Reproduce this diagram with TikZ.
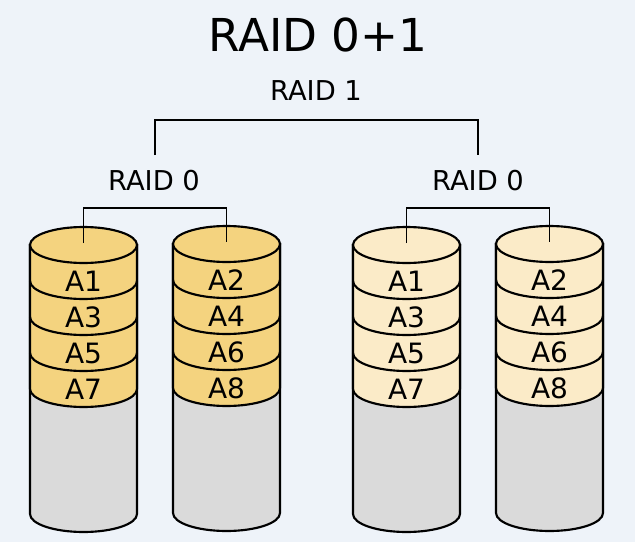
\documentclass[tikz,border=0pt]{standalone}
\usepackage{fontspec}
\setmainfont{DejaVu Sans}
\definecolor{bg}{HTML}{EEF3F9}
\definecolor{dk}{HTML}{F4D37F}
\definecolor{lt}{HTML}{FBEBC8}
\definecolor{gr}{HTML}{DADADA}
\newcommand{\mydisk}[5]{% cx, ytop(px), fill, label1, labels list
  \begin{scope}[shift={(#1,-#2)}]
    \draw[line width=1.6pt,fill=gr] (-53.5,0) -- (-53.5,-269) arc[start angle=180,end angle=360,x radius=53.5,y radius=18] -- (53.5,0) -- cycle;
    \draw[line width=1.6pt,fill=#3] (-53.5,0) -- (-53.5,-144) arc[start angle=180,end angle=360,x radius=53.5,y radius=18] -- (53.5,0) -- cycle;
    \foreach \k in {36,72,108}
      \draw[line width=1.6pt] (-53.5,-\k) arc[start angle=180,end angle=360,x radius=53.5,y radius=18];
    \draw[line width=1.6pt,fill=#3] (0,0) ellipse[x radius=53.5,y radius=18];
    \foreach \t [count=\i] in {#4,#5}
      \node[font=\fontsize{21}{23}\selectfont] at (0,-36*\i) {\t};
  \end{scope}}
\begin{document}
\begin{tikzpicture}[x=0.75pt,y=0.75pt,conn/.style={line width=1.2pt}]
\fill[bg] (0,0) rectangle (635,-542);
\useasboundingbox (0,0) rectangle (635,-542);
\node[font=\fontsize{34}{38}\selectfont] (title) at (318,-35) {RAID 0+1};
\node[font=\fontsize{20.5}{22}\selectfont] (r1) at (316,-91) {RAID 1};
\node[font=\fontsize{20.5}{22}\selectfont] (r0a) at (154,-181) {RAID 0};
\node[font=\fontsize{20.5}{22}\selectfont] (r0b) at (478,-181) {RAID 0};
\mydisk{83.5}{245}{dk}{A1}{A3,A5,A7}
\mydisk{226.5}{244}{dk}{A2}{A4,A6,A8}
\mydisk{406.5}{245}{lt}{A1}{A3,A5,A7}
\mydisk{549.5}{244}{lt}{A2}{A4,A6,A8}
\coordinate (d1) at (83.5,-243);
\coordinate (d2) at (226.5,-242);
\coordinate (d3) at (406.5,-243);
\coordinate (d4) at (549.5,-242);
\coordinate (b1) at (155,-155);
\coordinate (b2) at (478,-155);
\draw[conn] (b1) |- (316,-120) -| (b2);
\draw[conn] (d1) |- (154,-208) -| (d2);
\draw[conn] (d3) |- (478,-208) -| (d4);
\end{tikzpicture}
\end{document}
